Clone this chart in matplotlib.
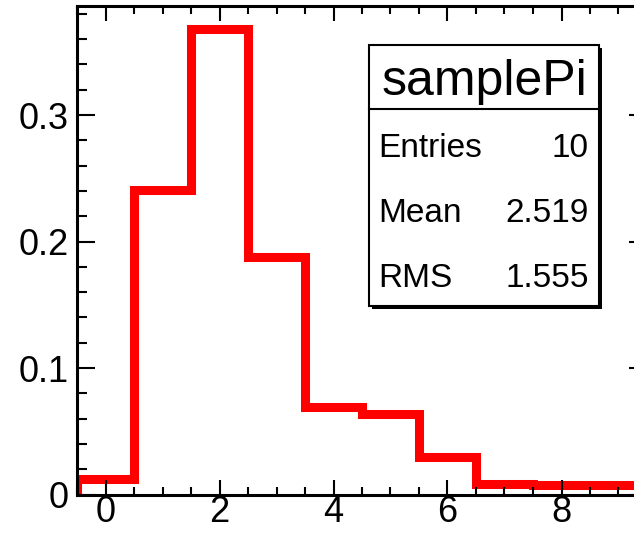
import matplotlib.pyplot as plt
from matplotlib.patches import Rectangle
from matplotlib.ticker import MultipleLocator
from matplotlib.lines import Line2D

plt.rcParams['font.family'] = ['Liberation Sans', 'DejaVu Sans']

# normalised histogram of samplePi, 10 bins from -0.5 to 9.5
bin_edges = [-0.5, 0.5, 1.5, 2.5, 3.5, 4.5, 5.5, 6.5, 7.5, 8.5, 9.5]
bin_values = [0.0123, 0.2405, 0.3678, 0.1875, 0.0695, 0.0635, 0.0299, 0.0083, 0.0075, 0.0075]

hist_name = 'samplePi'
stat_names = ['Entries', 'Mean', 'RMS']
stat_values = ['10', '2.519', '1.555']

W, H = 634, 534
fig = plt.figure(figsize=(W / 100, H / 100), dpi=100)
ax = fig.add_axes([77 / W, 1 - 494.5 / H, 570 / W, 488.5 / H])

ax.stairs(bin_values, bin_edges, color='red', lw=6.5, baseline=0)

ax.set_xlim(-0.5, 9.5)
ax.set_ylim(0, 1.05 * max(bin_values))

ax.xaxis.set_major_locator(MultipleLocator(2))
ax.xaxis.set_minor_locator(MultipleLocator(0.5))
ax.yaxis.set_major_locator(MultipleLocator(0.1))
ax.yaxis.set_minor_locator(MultipleLocator(0.02))
ax.yaxis.set_major_formatter(plt.FuncFormatter(lambda v, p: '0' if abs(v) < 1e-9 else f'{v:.1f}'))

ax.tick_params(axis='both', which='both', direction='in', top=True, right=True,
               labelsize=26, width=1.5)
ax.tick_params(axis='x', which='major', length=11, pad=0.5)
ax.tick_params(axis='x', which='minor', length=6)
ax.tick_params(axis='y', which='major', length=13, pad=6)
ax.tick_params(axis='y', which='minor', length=7)
for s in ax.spines.values():
    s.set_linewidth(2.2)

# stats box in pixel units of the figure
def fx(px):
    return px / W

def fy(py):
    return 1 - py / H

bx0, bx1, by0, by1 = 369, 599, 45, 306
fig.add_artist(Rectangle((fx(bx0 + 3), fy(by1 + 3)), fx(bx1 - bx0), (by1 - by0) / H,
                         transform=fig.transFigure, facecolor='black', edgecolor='none'))
fig.add_artist(Rectangle((fx(bx0), fy(by1)), fx(bx1 - bx0), (by1 - by0) / H,
                         transform=fig.transFigure, facecolor='white',
                         edgecolor='black', lw=1.5))
fig.add_artist(Line2D([fx(bx0), fx(bx1)], [fy(109), fy(109)],
                      transform=fig.transFigure, color='black', lw=1.5))

fig.text(fx((bx0 + bx1) / 2), fy(77), hist_name, fontsize=36,
         ha='center', va='center_baseline')
row_y = [145, 210, 275]
for name, val, ry in zip(stat_names, stat_values, row_y):
    fig.text(fx(378), fy(ry), name, fontsize=24, ha='left', va='center_baseline')
    fig.text(fx(589), fy(ry), val, fontsize=24, ha='right', va='center_baseline')

fig.savefig('out.png', dpi=100)
